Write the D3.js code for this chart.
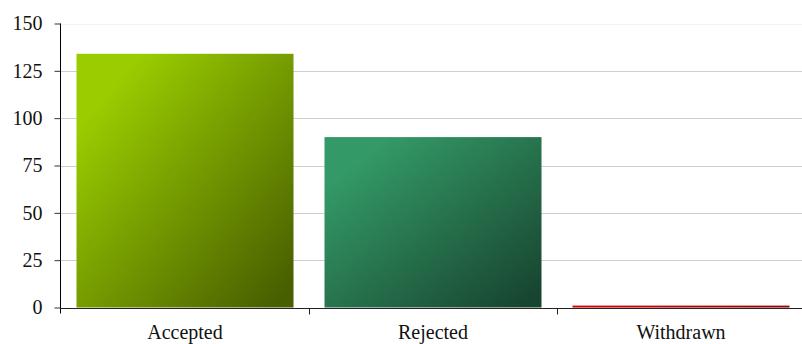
<!DOCTYPE html>
<html>
<head>
<meta charset="utf-8">
<script src="https://cdn.jsdelivr.net/npm/d3@7"></script>
<style>
  html, body { margin: 0; padding: 0; background: #fff; }
  svg { display: block; }
  text { font-family: "Liberation Serif", "Times New Roman", serif; font-size: 20px; fill: #111; }
</style>
</head>
<body>
<svg id="chart" width="802" height="344"></svg>
<script>
// Submission outcomes
const categories = ["Accepted", "Rejected", "Withdrawn"];
const counts = [134, 90, 1];
const yTicks = [0, 25, 50, 75, 100, 125, 150];
// light and dark ends of each bar's diagonal gradient
const lightColors = ["#9acc00", "#339966", "#dd0000"];
const darkColors = ["#485f00", "#184530", "#7a0000"];

const width = 802, height = 344;
const margin = { left: 61, right: -3, top: 23.5, bottom: 36.5 };

const svg = d3.select("#chart");

const x = d3.scaleBand()
  .domain(categories)
  .range([margin.left, width - margin.right])
  .paddingInner(0.125)
  .paddingOuter(0.0625);

const y = d3.scaleLinear()
  .domain([0, 150])
  .range([height - margin.bottom, margin.top]);

// gradients: light corner top-left, dark corner bottom-right
const defs = svg.append("defs");
categories.forEach((c, i) => {
  const g = defs.append("linearGradient")
    .attr("id", "grad" + i)
    .attr("x1", 0).attr("y1", 0).attr("x2", 1).attr("y2", 1);
  g.append("stop").attr("offset", "0%").attr("stop-color", lightColors[i]);
  g.append("stop").attr("offset", "15%").attr("stop-color", lightColors[i]);
  g.append("stop").attr("offset", "95%").attr("stop-color", darkColors[i]);
  g.append("stop").attr("offset", "100%").attr("stop-color", darkColors[i]);
});

// horizontal gridlines
svg.append("g")
  .selectAll("line")
  .data(yTicks)
  .join("line")
  .attr("x1", margin.left)
  .attr("x2", width)
  .attr("y1", d => Math.round(y(d)) + 0.5)
  .attr("y2", d => Math.round(y(d)) + 0.5)
  .attr("stroke", d => d === 150 ? "#f2f2f2" : "#cfcfcf")
  .attr("stroke-width", 1.2);

// bars
const bandStep = x.step();
svg.append("g")
  .selectAll("rect")
  .data(categories)
  .join("rect")
  .attr("x", d => x(d))
  .attr("y", (d, i) => y(counts[i]))
  .attr("width", x.bandwidth())
  .attr("height", (d, i) => y(0) - y(counts[i]))
  .attr("fill", (d, i) => `url(#grad${i})`);

// y axis
const yAxis = svg.append("g")
  .attr("transform", `translate(${margin.left - 0.5},0)`)
  .call(d3.axisLeft(y).tickValues(yTicks).tickSize(6).tickPadding(12));
yAxis.select(".domain").attr("stroke", "#000").attr("d", `M0,${y(150)}V${y(0) + 6}`);
yAxis.selectAll(".tick line").attr("stroke", "#333");
yAxis.selectAll(".tick text").attr("font-size", 20).attr("fill", "#111")
  .attr("font-family", "Liberation Serif, Times New Roman, serif");

// x axis: ticks sit on category boundaries, labels centred under bars
const xAxisG = svg.append("g")
  .attr("transform", `translate(0,${y(0) + 1})`);
xAxisG.append("line")
  .attr("x1", margin.left - 0.5).attr("x2", width)
  .attr("y1", 0).attr("y2", 0)
  .attr("stroke", "#222").attr("stroke-width", 1.2);
const boundaries = categories.slice(1).map(c => x(c) - bandStep * x.paddingInner() / 2);
xAxisG.selectAll("line.tick")
  .data(boundaries)
  .join("line")
  .attr("class", "tick")
  .attr("x1", d => Math.round(d) + 0.5).attr("x2", d => Math.round(d) + 0.5)
  .attr("y1", 0).attr("y2", 6)
  .attr("stroke", "#222");
xAxisG.selectAll("text")
  .data(categories)
  .join("text")
  .attr("x", d => x(d) + x.bandwidth() / 2)
  .attr("y", 30.5)
  .attr("text-anchor", "middle")
  .text(d => d);
</script>
</body>
</html>
